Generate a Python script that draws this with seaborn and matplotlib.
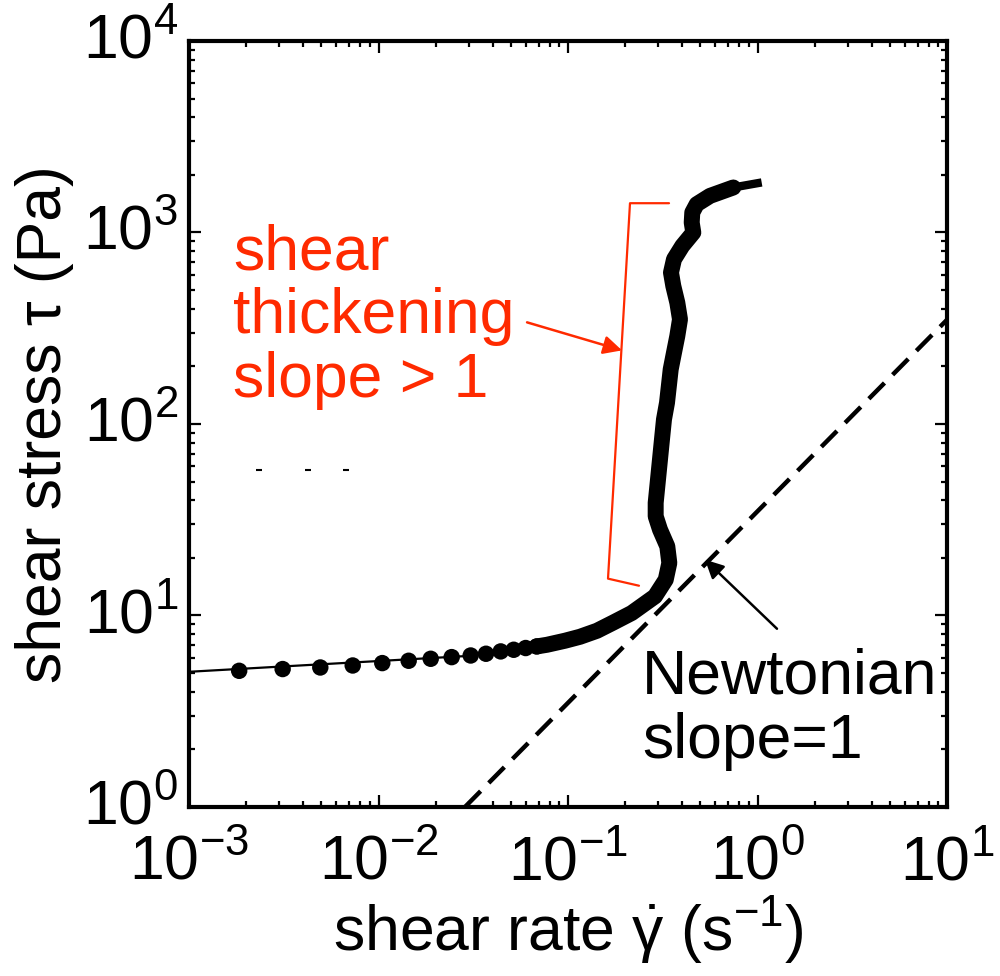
import matplotlib
matplotlib.use("Agg")
import matplotlib.pyplot as plt
import matplotlib.transforms as mtransforms
import seaborn as sns
from matplotlib.ticker import LogLocator, NullFormatter

# ---------------- data ----------------
# discrete measured points (circles)
rate_pts = [0.00184, 0.00312, 0.00493, 0.00731, 0.01047, 0.01443, 0.01886,
            0.02433, 0.03065, 0.03692, 0.04414, 0.05170, 0.05979, 0.06837]
stress_pts = [5.14, 5.25, 5.35, 5.48, 5.64, 5.80, 5.94,
              6.06, 6.18, 6.31, 6.49, 6.62, 6.76, 6.89]

# dense part of the flow curve (markers merge into a thick line)
rate_curve = [0.06837, 0.0775, 0.0964, 0.1157, 0.1422, 0.1728, 0.2169, 0.2877,
              0.3279, 0.3425, 0.3342, 0.3058, 0.2902, 0.2902, 0.3021, 0.3145,
              0.3210, 0.3330, 0.3483, 0.3625, 0.3774, 0.3899, 0.3774, 0.3595,
              0.3495, 0.3625, 0.4010, 0.4584, 0.4496, 0.4528, 0.4778, 0.5614,
              0.7454]
stress_curve = [6.89, 7.03, 7.38, 7.74, 8.32, 9.17, 10.30, 12.58,
                15.38, 18.80, 22.96, 28.08, 32.96, 38.73, 57.83, 86.34,
                105.6, 129.1, 192.8, 235.7, 287.8, 351.9, 430.2, 525.5,
                617.6, 724.6, 850.6, 999.0, 1127.0, 1272.0, 1405.0, 1553.0,
                1718.0]
# tapered tip of the curve
rate_tip = [0.7454, 1.052]
stress_tip = [1718.0, 1825.0]

# thin low-rate fit line
fit_rate = [0.001, 0.03]
fit_stress = [5.08, 6.15]

# Newtonian reference, slope = 1
newt_rate = [0.0286, 10.0]
newt_stress = [1.0, 350.0]

# red bracket marking the shear-thickening region
bracket_rate = [0.3412, 0.2124, 0.1626, 0.2369]
bracket_stress = [1422.0, 1422.0, 15.57, 14.30]

# small stray dashes
dash_rate = [0.00234, 0.00426, 0.00671]
dash_stress = [57.8, 57.8, 57.8]

red_lines = ["shear", "thickening", "slope > 1"]
black_lines = ["Newtonian", "slope=1"]

RED = "#FF2A00"
FONT = "Liberation Sans"

# ---------------- style ----------------
sns.set_style("ticks")
plt.rcParams["font.family"] = [FONT, "DejaVu Sans"]
plt.rcParams["mathtext.fontset"] = "custom"
plt.rcParams["mathtext.rm"] = FONT
plt.rcParams["mathtext.it"] = FONT
plt.rcParams["mathtext.bf"] = FONT
plt.rcParams["mathtext.sf"] = FONT
for k in ("text.color", "axes.labelcolor", "xtick.color", "ytick.color",
          "axes.edgecolor"):
    plt.rcParams[k] = "black"

FS = 45

fig = plt.figure(figsize=(10, 9.76), dpi=100)
ax = fig.add_axes([0.189, 0.1732, 0.758, 0.7848])

ax.set_xscale("log")
ax.set_yscale("log")

# Newtonian dashed line
sns.lineplot(x=newt_rate, y=newt_stress, ax=ax, color="black", lw=3.2,
             linestyle=(0, (5, 2.6)), sort=False, estimator=None)

# thin fit line
sns.lineplot(x=fit_rate, y=fit_stress, ax=ax, color="black", lw=1.6,
             sort=False, estimator=None)

# dense thick flow curve
sns.lineplot(x=rate_curve, y=stress_curve, ax=ax, color="black", lw=11.5,
             sort=False, estimator=None,
             solid_capstyle="round", solid_joinstyle="round")
sns.lineplot(x=rate_tip, y=stress_tip, ax=ax, color="black", lw=6,
             sort=False, estimator=None, solid_capstyle="butt")

# discrete points
sns.scatterplot(x=rate_pts, y=stress_pts, ax=ax, color="black", s=140,
                edgecolor="none", zorder=4)

# stray dashes
sns.scatterplot(x=dash_rate, y=dash_stress, ax=ax, color="black", marker="_",
                s=20, linewidth=1.5, zorder=4)

# red bracket
sns.lineplot(x=bracket_rate, y=bracket_stress, ax=ax, color=RED, lw=1.6,
             sort=False, estimator=None)

# arrows
ax.annotate("", xy=(0.1928, 242.3), xytext=(0.0608, 339.4),
            arrowprops=dict(arrowstyle="-|>", color=RED, lw=1.8,
                            mutation_scale=28, shrinkA=0, shrinkB=0))
ax.annotate("", xy=(0.5285, 19.56), xytext=(1.267, 8.525),
            arrowprops=dict(arrowstyle="-|>", color="black", lw=1.8,
                            mutation_scale=28, shrinkA=0, shrinkB=0))

ax.set_xlim(1e-3, 1e1)
ax.set_ylim(1e0, 1e4)

# ticks
for axis in (ax.xaxis, ax.yaxis):
    axis.set_major_locator(LogLocator(base=10, numticks=10))
    axis.set_minor_locator(LogLocator(base=10, subs=range(2, 10), numticks=50))
    axis.set_minor_formatter(NullFormatter())
ax.tick_params(which="both", direction="in", top=True, right=True,
               labelsize=FS, color="black", labelcolor="black")
ax.tick_params(which="major", length=8.5, width=1.6)
ax.tick_params(which="minor", length=4.5, width=1.6)
ax.tick_params(axis="x", which="major", pad=19)
ax.tick_params(axis="y", which="major", pad=8)

for sp in ax.spines.values():
    sp.set_linewidth(3)
    sp.set_visible(True)
    sp.set_color("black")

ax.set_xlabel(r"shear rate $\dot{\gamma}$ (s$^{-1}$)", fontsize=FS, labelpad=1)
ax.set_ylabel("shear stress τ (Pa)", fontsize=FS, labelpad=6)

# lift y tick labels so the digits (not the superscript) centre on the tick
fig.canvas.draw()
lift = mtransforms.ScaledTranslation(0, 6 / 100, fig.dpi_scale_trans)
for lab in ax.get_yticklabels():
    lab.set_transform(lab.get_transform() + lift)

# annotation texts (one text per line, placed by baseline)
for i, t in enumerate(red_lines):
    fig.text(0.233, 1 - (269 + 64 * i) / 976, t, color=RED, fontsize=FS,
             va="baseline", ha="left")
for i, t in enumerate(black_lines):
    fig.text(0.642, 1 - (693 + 65 * i) / 976, t, color="black", fontsize=FS,
             va="baseline", ha="left")

fig.savefig("out.png", dpi=100)
